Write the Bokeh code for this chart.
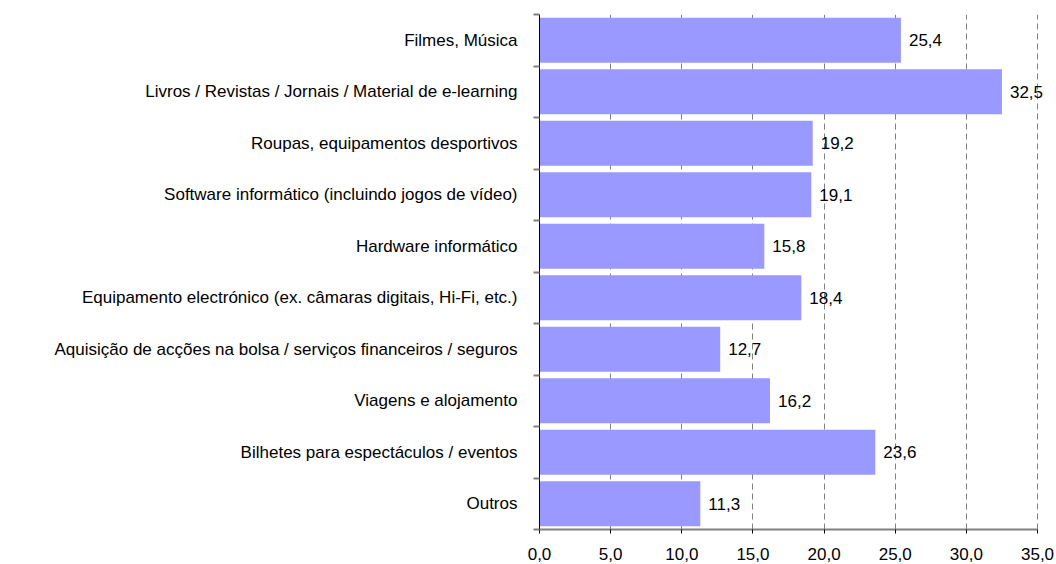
from bokeh.plotting import figure
from bokeh.models import Range1d, FixedTicker, ColumnDataSource, LabelSet
from bokeh.core.properties import value
from bokeh.embed import file_html
from bokeh.resources import INLINE

categories = [
    "Filmes, Música",
    "Livros / Revistas / Jornais / Material de e-learning",
    "Roupas, equipamentos desportivos",
    "Software informático (incluindo jogos de vídeo)",
    "Hardware informático",
    "Equipamento electrónico (ex. câmaras digitais, Hi-Fi, etc.)",
    "Aquisição de acções na bolsa / serviços financeiros / seguros",
    "Viagens e alojamento",
    "Bilhetes para espectáculos / eventos",
    "Outros",
]
values = [25.4, 32.5, 19.2, 19.1, 15.8, 18.4, 12.7, 16.2, 23.6, 11.3]
x_ticks = [0, 5, 10, 15, 20, 25, 30, 35]
x_tick_labels = ["0,0", "5,0", "10,0", "15,0", "20,0", "25,0", "30,0", "35,0"]

n = len(categories)
ys = [n - i - 0.5 for i in range(n)]
labels = [f"{v:.1f}".replace(".", ",") for v in values]
src = ColumnDataSource(dict(y=ys, v=values, lab=labels, cat=categories))

FONT = "Liberation Sans"
FS = "17px"
X_MAX = 35
# frame extends a little past the last tick so that the value labels are not clipped
X_VIEW_END = 35.63

p = figure(width=1056, height=564, x_range=Range1d(0, X_VIEW_END), y_range=Range1d(0, n),
           output_backend="svg", toolbar_location=None,
           min_border_left=539, min_border_right=10, min_border_top=14, min_border_bottom=35)
p.outline_line_color = None
p.background_fill_color = "white"

p.hbar(y="y", right="v", left=0, height=0.87, source=src,
       fill_color="#9999FF", line_color=None)

p.add_layout(LabelSet(x="v", y="y", text="lab", source=src, x_offset=8,
                      text_baseline="middle", text_font=value(FONT),
                      text_font_size=value(FS), text_color="black"))

# x axis
p.xaxis.ticker = FixedTicker(ticks=x_ticks)
p.xaxis.bounds = (0, X_MAX)
p.xaxis.major_label_overrides = {t: l for t, l in zip(x_ticks, x_tick_labels)}
p.xaxis.axis_line_color = "#808080"
p.xaxis.axis_line_width = 2
p.xaxis.major_tick_line_color = "black"
p.xaxis.major_tick_in = 0
p.xaxis.major_tick_out = 4
p.xaxis.minor_tick_line_color = None
p.xaxis.major_label_text_font = FONT
p.xaxis.major_label_text_font_size = FS
p.xaxis.major_label_standoff = 14
p.xaxis.major_label_text_color = "black"

# y axis
p.yaxis.ticker = FixedTicker(ticks=ys, minor_ticks=list(range(n + 1)))
p.yaxis.major_label_overrides = {y: c for y, c in zip(ys, categories)}
p.yaxis.axis_line_color = "black"
p.yaxis.major_tick_line_color = None
p.yaxis.major_tick_in = 0
p.yaxis.major_tick_out = 0
p.yaxis.minor_tick_line_color = "#808080"
p.yaxis.minor_tick_line_width = 2
p.yaxis.minor_tick_in = 0
p.yaxis.minor_tick_out = 6
p.yaxis.major_label_text_font = FONT
p.yaxis.major_label_text_font_size = FS
p.yaxis.major_label_standoff = 16
p.yaxis.major_label_text_color = "black"

p.ygrid.grid_line_color = None
p.xgrid.ticker = FixedTicker(ticks=x_ticks)
p.xgrid.bounds = (0, X_MAX)
p.xgrid.grid_line_color = "#808080"
p.xgrid.grid_line_dash = "6 4"
p.xgrid.grid_line_width = 1

open("out.html", "w").write(file_html(p, INLINE))
